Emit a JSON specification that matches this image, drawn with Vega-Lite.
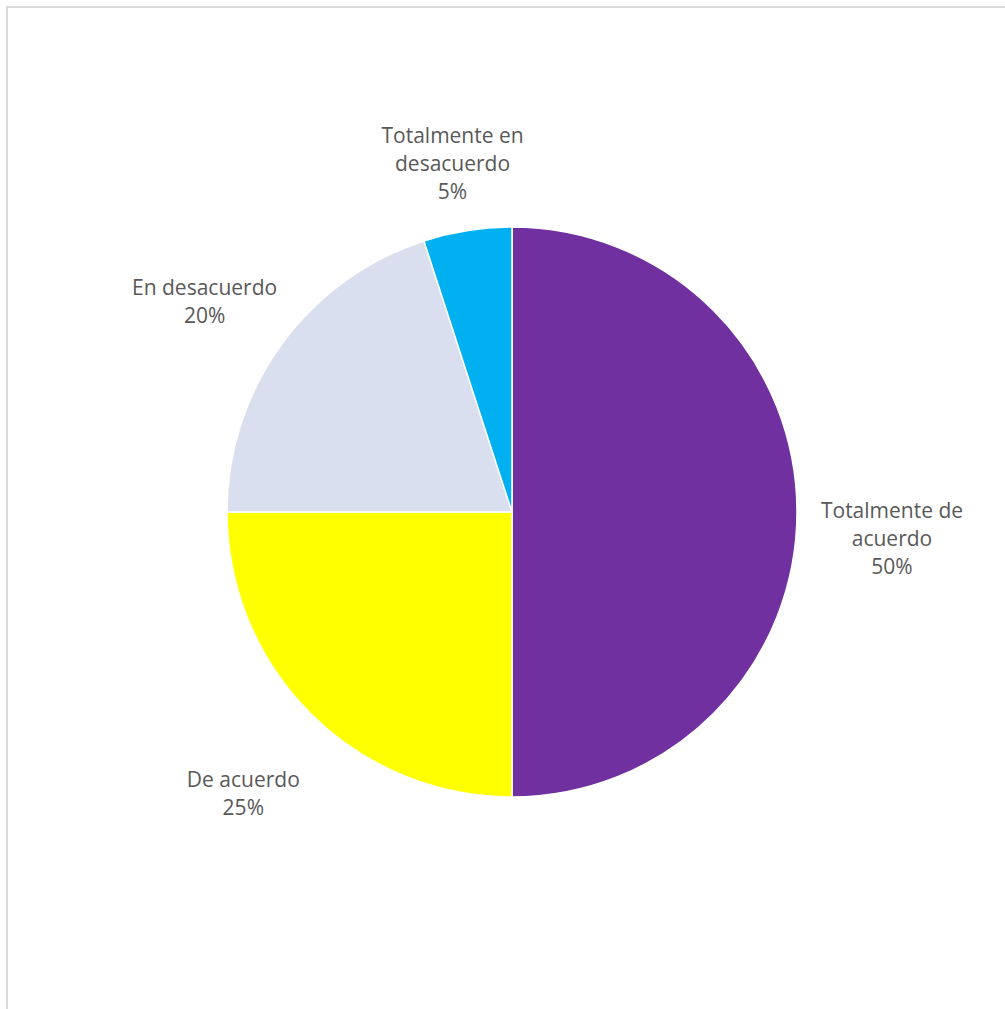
{
  "$schema": "https://vega.github.io/schema/vega-lite/v6.json",
  "width": 1010,
  "height": 1010,
  "autosize": {"type": "none"},
  "padding": {"left": 7, "top": 7, "right": 0, "bottom": 0},
  "background": "white",
  "view": {"stroke": "#d9d9d9", "strokeWidth": 2, "fill": "white"},
  "data": {
    "values": [
      {"categoria": "Totalmente de acuerdo", "porcentaje": 50, "orden": 1, "etiqueta": "Totalmente de\nacuerdo\n50%"},
      {"categoria": "De acuerdo", "porcentaje": 25, "orden": 2, "etiqueta": "De acuerdo\n25%"},
      {"categoria": "En desacuerdo", "porcentaje": 20, "orden": 3, "etiqueta": "En desacuerdo\n20%"},
      {"categoria": "Totalmente en desacuerdo", "porcentaje": 5, "orden": 4, "etiqueta": "Totalmente en\ndesacuerdo\n5%"}
    ]
  },
  "encoding": {
    "theta": {"field": "porcentaje", "type": "quantitative", "stack": true},
    "order": {"field": "orden", "type": "quantitative"}
  },
  "layer": [
    {
      "mark": {"type": "arc", "outerRadius": 285, "stroke": "white", "strokeWidth": 1.5},
      "encoding": {
        "color": {
          "field": "categoria",
          "type": "nominal",
          "scale": {
            "domain": ["Totalmente de acuerdo", "De acuerdo", "En desacuerdo", "Totalmente en desacuerdo"],
            "range": ["#7030A0", "#FFFF00", "#D9DFEF", "#00B0F0"]
          },
          "legend": null
        }
      }
    },
    {
      "mark": {"type": "text", "radius": 380, "font": "Open Sans", "fontSize": 21, "lineHeight": 28, "lineBreak": "\n", "color": "#595959", "align": "center", "baseline": "middle"},
      "encoding": {
        "text": {"field": "etiqueta", "type": "nominal"}
      }
    }
  ]
}
